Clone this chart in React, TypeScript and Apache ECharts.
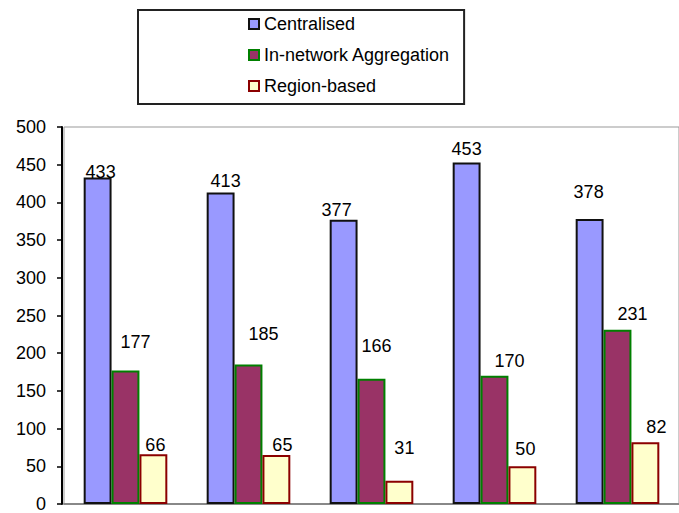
import React, { useEffect, useRef } from "react";
import * as echarts from "echarts";

const categories = ["1", "2", "3", "4", "5"];
const centralised = [433, 413, 377, 453, 378];
const inNetwork = [177, 185, 166, 170, 231];
const regionBased = [66, 65, 31, 50, 82];
const yTicks = { min: 0, max: 500, interval: 50 };

// label nudges (style only) to mimic the original placement
const centralisedLabelNudge = [[3, 3], [5, -3], [-7, -1], [0, -4], [-1, -18]];
const inNetworkLabelNudge = [[10, -20], [15, -22], [5, -24], [15, -6], [15, -7]];
const regionLabelNudge = [[2, 0], [6, -1], [5, -24], [3, -8], [11, -6]];

const FONT = "Liberation Sans, Arial, sans-serif";

function buildData(values: number[], nudges: number[][]) {
  return values.map((v, i) => ({
    value: v,
    label: { offset: nudges[i] },
  }));
}

export default function App() {
  const ref = useRef<HTMLDivElement>(null);
  useEffect(() => {
    if (!ref.current) return;
    const chart = echarts.init(ref.current, null, { renderer: "svg" });
    const labelBase = {
      show: true,
      position: "top" as const,
      distance: 0,
      color: "#000",
      fontSize: 18,
      fontFamily: FONT,
    };
    chart.setOption({
      animation: false,
      backgroundColor: "#fff",
      legend: {
        orient: "vertical",
        left: 138,
        top: 10,
        padding: [4, 14, 8, 110],
        borderColor: "#222",
        borderWidth: 2,
        itemWidth: 10,
        itemHeight: 10,
        itemGap: 11,
        icon: "rect",
        textStyle: { fontSize: 18, fontFamily: FONT, color: "#000", lineHeight: 20 },
        data: ["Centralised", "In-network Aggregation", "Region-based"],
      },
      grid: {
        left: 64,
        top: 127,
        width: 627,
        bottom: 7,
        show: true,
        borderColor: "#999",
        borderWidth: 1,
        containLabel: false,
      },
      xAxis: {
        type: "category",
        data: categories,
        axisLine: { show: true, lineStyle: { color: "#888", width: 2 } },
        axisTick: { show: false },
        axisLabel: { show: false },
      },
      yAxis: {
        type: "value",
        min: yTicks.min,
        max: yTicks.max,
        interval: yTicks.interval,
        offset: 2,
        axisLine: { show: true, lineStyle: { color: "#000", width: 2 } },
        axisTick: { show: true, length: 5, lineStyle: { color: "#000", width: 1.5 } },
        axisLabel: { color: "#000", fontSize: 18, fontFamily: FONT, margin: 16 },
        splitLine: { show: false },
      },
      series: [
        {
          name: "Centralised",
          type: "bar",
          barGap: "0%",
          barCategoryGap: "32%",
          data: buildData(centralised, centralisedLabelNudge),
          itemStyle: { color: "#9999FF", borderColor: "#111", borderWidth: 2 },
          label: labelBase,
        },
        {
          name: "In-network Aggregation",
          type: "bar",
          barGap: "0%",
          barCategoryGap: "32%",
          data: buildData(inNetwork, inNetworkLabelNudge),
          itemStyle: { color: "#993366", borderColor: "#008000", borderWidth: 2 },
          label: labelBase,
        },
        {
          name: "Region-based",
          type: "bar",
          barGap: "0%",
          barCategoryGap: "32%",
          data: buildData(regionBased, regionLabelNudge),
          itemStyle: { color: "#FFFFCC", borderColor: "#8B0000", borderWidth: 2 },
          label: labelBase,
        },
      ],
    });
    return () => chart.dispose();
  }, []);
  return (
    <div
      ref={ref}
      style={{ position: "absolute", left: 0, top: 0, width: 679, height: 513 }}
    />
  );
}
